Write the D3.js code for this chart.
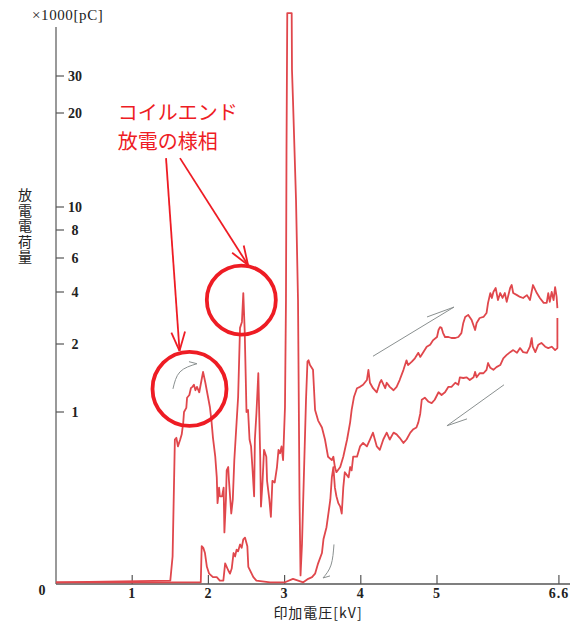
<!DOCTYPE html>
<html>
<head>
<meta charset="utf-8">
<script src="https://cdn.jsdelivr.net/npm/d3@7"></script>
<style>
  html, body { margin: 0; padding: 0; background: #fff; }
  svg { display: block; }
</style>
</head>
<body>
<div id="chart"></div>
<script>
// tick values of both axes
const xTicks = [1, 2, 3, 4, 5, 6.6];
const yTicks = [0, 1, 2, 4, 6, 8, 10, 20, 30];

// rising voltage sweep [kV, x1000 pC]
const riseData = [
  [0, 0.01], [1.50, 0.02], [1.53, 0.16], [1.56, 0.84], [1.58, 0.85], [1.60, 0.80], [1.63, 0.84],
  [1.65, 0.87], [1.67, 0.94], [1.68, 1.00], [1.71, 1.06], [1.72, 1.21], [1.75, 1.25], [1.77, 1.35],
  [1.79, 1.37], [1.81, 1.40], [1.83, 1.32], [1.85, 1.37], [1.88, 1.29], [1.91, 1.47], [1.93, 1.59],
  [1.96, 1.43], [1.99, 1.25], [2.02, 1.07], [2.04, 0.95], [2.06, 0.85], [2.09, 0.74], [2.11, 0.62],
  [2.12, 0.47], [2.14, 0.56], [2.15, 0.51], [2.18, 0.51], [2.20, 0.56], [2.21, 0.30], [2.23, 0.49],
  [2.24, 0.66], [2.26, 0.68], [2.27, 0.60], [2.30, 0.41], [2.32, 0.49], [2.34, 0.72], [2.37, 0.94],
  [2.39, 1.22], [2.415, 2.62], [2.44, 2.85], [2.458, 3.96], [2.476, 2.54], [2.49, 1.51], [2.50, 1.00],
  [2.52, 1.03], [2.54, 0.84], [2.56, 0.80], [2.58, 0.66], [2.60, 0.51], [2.61, 0.84], [2.63, 0.99],
  [2.655, 1.57], [2.668, 0.97], [2.68, 0.74], [2.69, 0.45], [2.71, 0.59], [2.73, 0.78], [2.76, 0.74],
  [2.77, 0.60], [2.80, 0.49], [2.82, 0.39], [2.84, 0.60], [2.87, 0.59], [2.90, 0.68], [2.92, 0.78],
  [2.94, 0.76], [2.96, 0.80], [2.98, 0.72], [3.005, 1.07], [3.018, 3.69], [3.025, 16.1], [3.035, 47],
  [3.093, 47], [3.097, 31.6], [3.11, 23.5], [3.15, 10.7], [3.176, 3.69], [3.196, 0.49], [3.209, 0.05],
  [3.228, 0.23], [3.255, 0.66], [3.281, 1.18], [3.30, 1.74], [3.314, 1.76], [3.333, 1.69], [3.373, 1.62],
  [3.40, 1.03], [3.44, 0.95], [3.49, 0.91], [3.53, 0.84], [3.57, 0.74], [3.62, 0.72], [3.64, 0.74],
  [3.66, 0.68], [3.68, 0.65], [3.73, 0.68], [3.77, 0.74], [3.82, 0.84], [3.86, 0.94], [3.88, 1.03],
  [3.91, 1.22], [3.95, 1.35], [3.99, 1.37], [4.03, 1.40], [4.08, 1.47], [4.10, 1.62], [4.12, 1.43],
  [4.16, 1.35], [4.21, 1.29], [4.25, 1.43], [4.27, 1.47], [4.32, 1.35], [4.34, 1.43], [4.38, 1.37],
  [4.43, 1.32], [4.47, 1.37], [4.51, 1.47], [4.56, 1.62], [4.60, 1.76], [4.62, 1.69], [4.67, 1.74],
  [4.71, 1.79], [4.755, 1.87], [4.78, 1.81], [4.82, 1.88], [4.865, 1.96], [4.91, 1.99], [4.95, 2.15],
  [5.00, 2.27], [5.02, 2.54], [5.04, 2.65], [5.06, 2.62], [5.08, 2.42], [5.105, 2.27], [5.15, 2.27],
  [5.19, 2.23], [5.24, 2.23], [5.28, 2.27], [5.32, 2.42], [5.345, 2.81], [5.37, 3.04], [5.41, 3.12],
  [5.455, 2.92], [5.50, 2.54], [5.52, 2.81], [5.56, 3.00], [5.61, 3.04], [5.65, 3.19], [5.67, 3.58],
  [5.70, 3.96], [5.72, 3.77], [5.74, 4.00], [5.77, 4.24], [5.80, 3.69], [5.83, 3.96], [5.86, 3.77],
  [5.89, 3.96], [5.915, 3.62], [5.96, 4.24], [5.98, 4.41], [6.00, 3.96], [6.05, 3.88], [6.09, 3.81],
  [6.13, 3.77], [6.18, 3.88], [6.22, 3.69], [6.26, 4.41], [6.29, 4.12], [6.31, 3.96], [6.35, 3.77],
  [6.40, 3.58], [6.44, 3.58], [6.46, 3.96], [6.48, 3.62], [6.505, 4.00], [6.53, 3.69], [6.55, 4.29],
  [6.57, 3.81], [6.58, 3.38]
];

// falling voltage sweep [kV, x1000 pC]
const fallData = [
  [6.58, 3.00], [6.58, 1.94], [6.55, 1.91], [6.505, 1.96], [6.46, 1.94], [6.42, 1.96], [6.37, 2.04],
  [6.33, 1.99], [6.29, 1.88], [6.256, 1.96], [6.243, 2.23], [6.22, 1.96], [6.18, 1.87], [6.13, 1.88],
  [6.09, 1.94], [6.05, 1.87], [6.00, 1.91], [5.96, 1.88], [5.915, 1.84], [5.87, 1.79], [5.83, 1.69],
  [5.78, 1.66], [5.74, 1.62], [5.70, 1.65], [5.67, 1.72], [5.65, 1.62], [5.61, 1.57], [5.56, 1.57],
  [5.52, 1.51], [5.50, 1.59], [5.48, 1.51], [5.43, 1.47], [5.39, 1.51], [5.345, 1.50], [5.30, 1.51],
  [5.28, 1.40], [5.24, 1.43], [5.19, 1.37], [5.15, 1.37], [5.105, 1.29], [5.06, 1.25], [5.02, 1.29],
  [4.97, 1.18], [4.93, 1.13], [4.89, 1.15], [4.84, 1.21], [4.80, 1.18], [4.78, 0.99], [4.755, 0.94],
  [4.73, 0.91], [4.69, 0.90], [4.65, 0.88], [4.60, 0.84], [4.56, 0.82], [4.51, 0.85], [4.47, 0.87],
  [4.43, 0.88], [4.38, 0.84], [4.34, 0.88], [4.295, 0.84], [4.25, 0.78], [4.21, 0.80], [4.16, 0.88],
  [4.12, 0.84], [4.08, 0.80], [4.03, 0.82], [3.99, 0.80], [3.95, 0.74], [3.90, 0.74], [3.88, 0.66],
  [3.86, 0.68], [3.84, 0.62], [3.79, 0.65], [3.77, 0.56], [3.75, 0.41], [3.73, 0.45], [3.705, 0.47],
  [3.68, 0.51], [3.66, 0.56], [3.64, 0.68], [3.62, 0.62], [3.60, 0.49], [3.55, 0.33], [3.51, 0.26],
  [3.49, 0.18], [3.44, 0.12], [3.40, 0.06], [3.36, 0.04], [3.31, 0.03], [3.245, 0.01], [3.11, 0.03],
  [3.005, 0.01], [2.81, 0.01], [2.63, 0.02], [2.59, 0.04], [2.524, 0.10], [2.511, 0.22], [2.48, 0.27],
  [2.458, 0.26], [2.437, 0.21], [2.415, 0.23], [2.39, 0.19], [2.37, 0.20], [2.35, 0.16], [2.33, 0.18],
  [2.306, 0.09], [2.283, 0.06], [2.26, 0.08], [2.24, 0.10], [2.22, 0.12], [2.196, 0.02], [2.15, 0.02],
  [2.11, 0.04], [2.06, 0.04], [2.01, 0.06], [1.98, 0.10], [1.955, 0.18], [1.933, 0.21], [1.912, 0.22],
  [1.90, 0.01], [0, 0.01]
];

// red annotation
const noteLines = ["コイルエンド", "放電の様相"];
const noteAt = [0.81, 19.3];
const noteCircles = [[1.752, 1.34], [2.432, 3.69]];
const noteArrows = [
  [[1.444, 15.2], [1.621, 1.90]],
  [[1.627, 15.2], [2.520, 5.59]]
];
// grey pencil arrows showing the sweep direction
const pencilArrows = [
  { path: [[1.535, 1.34], [1.627, 1.59], [1.850, 1.71]], barb: [1.745, 1.74] },
  { path: [[4.160, 1.82], [5.223, 3.42]], barb: [4.869, 3.04] },
  { path: [[5.879, 1.40], [5.131, 0.92]], barb: [5.394, 0.96] },
  { path: [[3.648, 0.23], [3.609, 0.11], [3.504, 0.035]], barb: [3.596, 0.047] }
];

const xLabel = "印加電圧[kV]";
const yLabel = "放電電荷量";
const unitLabel = "×1000[pC]";

const width = 579, height = 622;
const x0 = 56, yBase = 584;
// the printed charge axis is irregular, so it is mapped tick by tick
const yTickPos = [584, 412, 344, 292, 258, 230, 207, 113, 76];

const x = d3.scaleLinear().domain([0, 6.6]).range([x0, x0 + 6.6 * 76.2]);
const y = d3.scaleLinear().domain(yTicks).range(yTickPos);

const svg = d3.select("#chart").append("svg")
  .attr("width", width)
  .attr("height", height);

const serif = "'Liberation Serif', 'DejaVu Serif', serif";
const jp = "'Noto Sans CJK JP', sans-serif";

// axes
svg.append("line")
  .attr("x1", x0).attr("x2", x0)
  .attr("y1", 27).attr("y2", yBase)
  .attr("stroke", "#777").attr("stroke-width", 1.5);
svg.append("line")
  .attr("x1", x0).attr("x2", 570)
  .attr("y1", yBase).attr("y2", yBase)
  .attr("stroke", "#555").attr("stroke-width", 1.5);

svg.selectAll(".xt")
  .data(xTicks)
  .enter()
  .append("line")
  .attr("x1", d => x(d)).attr("x2", d => x(d))
  .attr("y1", yBase).attr("y2", yBase - 9)
  .attr("stroke", "#555").attr("stroke-width", 1.2);

svg.selectAll(".xl")
  .data(xTicks)
  .enter()
  .append("text")
  .attr("x", d => x(d))
  .attr("y", 598)
  .attr("text-anchor", "middle")
  .attr("font-family", serif)
  .attr("font-size", 14)
  .attr("font-weight", "bold")
  .attr("letter-spacing", 1)
  .attr("fill", "#222")
  .text(d => d);

const yInner = yTicks.filter(d => d > 0);
svg.selectAll(".yt")
  .data(yInner)
  .enter()
  .append("line")
  .attr("x1", x0).attr("x2", x0 + 8)
  .attr("y1", d => y(d)).attr("y2", d => y(d))
  .attr("stroke", "#555").attr("stroke-width", 1.2);

svg.selectAll(".yl")
  .data(yInner)
  .enter()
  .append("text")
  .attr("x", 75)
  .attr("y", d => y(d) + 5)
  .attr("text-anchor", "middle")
  .attr("font-family", serif)
  .attr("font-size", 14)
  .attr("font-weight", "bold")
  .attr("fill", "#222")
  .text(d => d);

svg.append("text")
  .attr("x", 42).attr("y", 595)
  .attr("text-anchor", "middle")
  .attr("font-family", serif)
  .attr("font-size", 14)
  .attr("font-weight", "bold")
  .attr("fill", "#222")
  .text(yTicks[0]);

svg.append("text")
  .attr("x", 32).attr("y", 20)
  .attr("font-family", serif)
  .attr("font-size", 15)
  .attr("letter-spacing", 0.6)
  .attr("fill", "#222")
  .text(unitLabel);

svg.append("text")
  .attr("x", 318).attr("y", 618)
  .attr("text-anchor", "middle")
  .attr("font-family", jp)
  .attr("font-size", 14)
  .attr("letter-spacing", 1)
  .attr("fill", "#222")
  .text(xLabel);

// vertical axis title, one text set top to bottom
svg.append("text")
  .attr("x", 25)
  .attr("y", 188)
  .style("writing-mode", "vertical-rl")
  .style("text-orientation", "upright")
  .attr("font-family", jp)
  .attr("font-size", 14)
  .attr("letter-spacing", 1.5)
  .attr("fill", "#222")
  .text(yLabel);

// curves
const line = d3.line()
  .x(d => x(d[0]))
  .y(d => y(d[1]));

[riseData, fallData].forEach(data => {
  svg.append("path")
    .datum(data)
    .attr("d", line)
    .attr("fill", "none")
    .attr("stroke", "#e0474c")
    .attr("stroke-width", 1.8)
    .attr("stroke-linejoin", "round");
});

// pencil arrows
const curve = d3.line()
  .x(d => x(d[0]))
  .y(d => y(d[1]))
  .curve(d3.curveNatural);

pencilArrows.forEach(a => {
  svg.append("path")
    .attr("d", curve(a.path))
    .attr("fill", "none")
    .attr("stroke", "#8a9090")
    .attr("stroke-width", 1);
  const tip = a.path[a.path.length - 1];
  svg.append("line")
    .attr("x1", x(a.barb[0])).attr("y1", y(a.barb[1]))
    .attr("x2", x(tip[0])).attr("y2", y(tip[1]))
    .attr("stroke", "#8a9090")
    .attr("stroke-width", 1);
});

// red annotation
const red = "#ee1c24";
svg.selectAll(".ring")
  .data(noteCircles)
  .enter()
  .append("circle")
  .attr("cx", d => x(d[0]))
  .attr("cy", d => y(d[1]))
  .attr("r", (_, i) => i === 0 ? 37 : 34.5)
  .attr("fill", "none")
  .attr("stroke", red)
  .attr("stroke-width", 3.8);

noteArrows.forEach(a => {
  const x1 = x(a[0][0]), y1 = y(a[0][1]);
  const x2 = x(a[1][0]), y2 = y(a[1][1]);
  svg.append("line")
    .attr("x1", x1).attr("y1", y1)
    .attr("x2", x2).attr("y2", y2)
    .attr("stroke", red).attr("stroke-width", 1.8);
  const ang = Math.atan2(y2 - y1, x2 - x1);
  [-0.35, 0.35].forEach(s => {
    svg.append("line")
      .attr("x1", x2 - 20 * Math.cos(ang + s)).attr("y1", y2 - 20 * Math.sin(ang + s))
      .attr("x2", x2).attr("y2", y2)
      .attr("stroke", red).attr("stroke-width", 1.8);
  });
});

svg.selectAll(".note")
  .data(noteLines)
  .enter()
  .append("text")
  .attr("x", x(noteAt[0]))
  .attr("y", (_, i) => y(noteAt[1]) + i * 29)
  .attr("font-family", jp)
  .attr("font-size", 20)
  .attr("fill", red)
  .text(d => d);
</script>
</body>
</html>
